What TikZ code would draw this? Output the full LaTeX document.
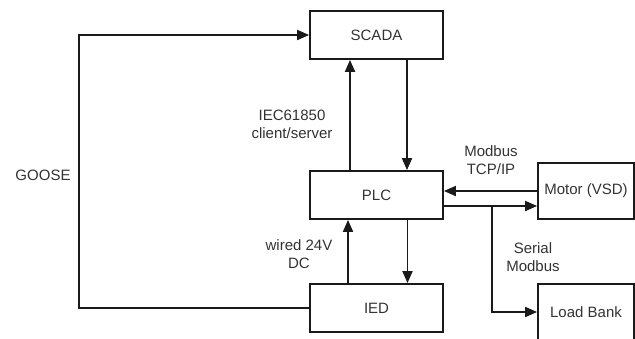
\documentclass[tikz,border=0pt]{standalone}
\usepackage{fontspec}
\setmainfont{Liberation Sans}
\usepackage{xcolor}
\usetikzlibrary{positioning, arrows.meta, calc}
\definecolor{ink}{HTML}{1a1a1a}
\definecolor{txt}{HTML}{333333}

\begin{document}
\begin{tikzpicture}[
  x=1pt, y=-1pt,
  font=\fontsize{15}{18}\selectfont,
  unit/.style={draw=ink, line width=1.8pt, minimum width=133pt, minimum height=48pt, inner sep=0pt, text=txt},
  side/.style={unit, minimum width=96pt, minimum height=56pt},
  tag/.style={align=center, text=txt, inner sep=0pt},
  arr/.style={-{Triangle[length=12pt, width=10pt]}, line width=1.8pt, ink}
]
  \useasboundingbox (0,0) rectangle (635,338);

  \node[unit] (scada) at (376.5,35) {SCADA};
  \node[unit] (plc) at (376.5,195) {PLC};
  \node[unit] (ied) at (376.5,308) {IED};
  \node[side] (motor) at (586,191) {Motor (VSD)};
  \node[side] (load) at (586,312) {Load Bank};

  \draw[arr] ([xshift=-26.5pt]plc.north) -- ([xshift=-26.5pt]scada.south);
  \draw[arr] ([xshift=30.5pt]scada.south) -- ([xshift=30.5pt]plc.north);
  \draw[arr] ([xshift=-28.5pt]ied.north) -- ([xshift=-28.5pt]plc.south);
  \draw[arr] ([xshift=31pt]plc.south) -- ([xshift=31pt]ied.north);

  % GOOSE loop round the left
  \draw[arr] (ied.west) -- ++(-230,0) |- (scada.west);

  % Motor and load bank
  \draw[arr] (motor.west) -- (motor.west -| plc.east);
  \coordinate (tap) at (492,206);
  \draw[arr] (tap -| plc.east) -- (tap -| motor.west);
  \draw[arr] (tap) |- (load.west);

  % Labels
  \node[tag] (goose) at (43,175) {GOOSE};
  \node[tag] (iec) at (292,124) {IEC61850\\client/server};
  \node[tag] (wired) at (299,254) {wired 24V\\DC};
  \node[tag] (tcp) at (491,160) {Modbus\\TCP/IP};
  \node[tag] (serial) at (533,257) {Serial\\Modbus};
\end{tikzpicture}
\end{document}
